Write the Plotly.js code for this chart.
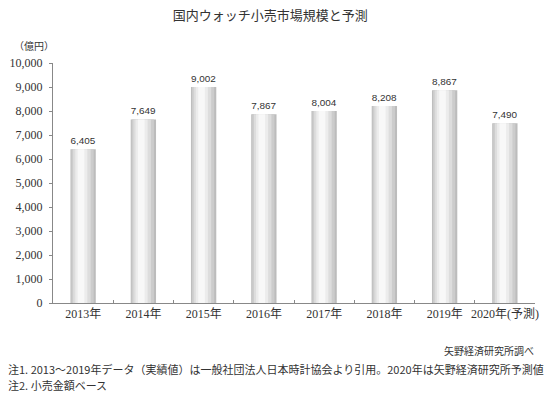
<!DOCTYPE html>
<html><head><meta charset="utf-8">
<script src="https://cdn.plot.ly/plotly-3.0.1.min.js"></script>
<style>html,body{margin:0;padding:0;background:#fff}#c{width:555px;height:399px}</style>
</head><body><div id="c"></div>
<script>
const categories = ["2013年","2014年","2015年","2016年","2017年","2018年","2019年","2020年(予測)"];
const values = [6405, 7649, 9002, 7867, 8004, 8208, 8867, 7490];
const valueLabels = ["6,405","7,649","9,002","7,867","8,004","8,208","8,867","7,490"];

const layers = [
  {w:0.42, o:-0.21, c:"#bcbcbc"},
  {w:0.37, o:-0.195, c:"#cccccc"},
  {w:0.29, o:-0.165, c:"#dddddd"},
  {w:0.20, o:-0.13, c:"#ececec"},
  {w:0.11, o:-0.09, c:"#f8f8f8"}
];
const traces = layers.map((L,i)=>({
  type:"bar", x:categories, y:values,
  width:categories.map(()=>L.w), offset:categories.map(()=>L.o),
  marker:{color:L.c, line:{width:0}},
  text: i===0 ? valueLabels : undefined,
  texttemplate: i===0 ? "%{text}" : undefined,
  textposition: i===0 ? "outside" : "none",
  textfont:{family:"Liberation Sans, Arial", size:10, color:"#333"},
  cliponaxis:false, hoverinfo:"skip", showlegend:false
}));

// plot area: x 53..535, y 63..303
const PX = px => (px - 53) / 482;
const PY = py => (303 - py) / 240;
const cjk = "Liberation Serif, Noto Sans CJK JP";
const layout = {
  width:555, height:399,
  margin:{l:53, r:20, t:63, b:96},
  paper_bgcolor:"#fff", plot_bgcolor:"#fff",
  barmode:"overlay",
  title:{text:"国内ウォッチ小売市場規模と予測", font:{family:"Noto Sans CJK JP", size:13, color:"#333"},
         xref:"container", x:0.487, xanchor:"center", yref:"container", y:0.962, yanchor:"middle"},
  xaxis:{type:"category", showline:true, linecolor:"#888", linewidth:1,
         ticks:"inside", tickson:"boundaries", ticklen:3, tickcolor:"#888",
         showgrid:false, zeroline:false, tickangle:0, automargin:false,
         tickfont:{family:cjk, size:12, color:"#333"}},
  yaxis:{range:[0,10000], dtick:1000, tickformat:",d", showline:true, linecolor:"#888", linewidth:1,
         ticks:"outside", ticklen:3, tickcolor:"#888", showgrid:false, zeroline:false,
         ticklabelstandoff:4,
         tickfont:{family:"Liberation Serif", size:12, color:"#333"}},
  annotations:[
    {text:"（億円）", xref:"paper", yref:"paper", x:PX(56), y:PY(45), xanchor:"right", yanchor:"middle", showarrow:false,
     font:{family:"Noto Sans CJK JP", size:10, color:"#333"}},
    {text:"矢野経済研究所調べ", xref:"paper", yref:"paper", x:PX(536), y:PY(350), xanchor:"right", yanchor:"middle", showarrow:false,
     font:{family:"Noto Sans CJK JP", size:10, color:"#333"}},
    {text:"注1. 2013～2019年データ（実績値）は一般社団法人日本時計協会より引用。2020年は矢野経済研究所予測値", xref:"paper", yref:"paper",
     x:PX(6), y:PY(369), xanchor:"left", yanchor:"middle", showarrow:false,
     font:{family:"Noto Sans CJK JP", size:11, color:"#333"}},
    {text:"注2. 小売金額ベース", xref:"paper", yref:"paper",
     x:PX(6), y:PY(385), xanchor:"left", yanchor:"middle", showarrow:false,
     font:{family:"Noto Sans CJK JP", size:11, color:"#333"}}
  ]
};
Plotly.newPlot("c", traces, layout, {staticPlot:true, displayModeBar:false});
</script></body></html>
